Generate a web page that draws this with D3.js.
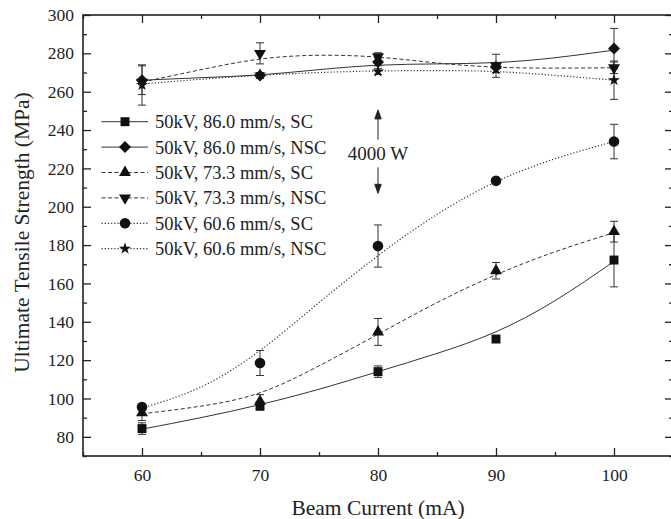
<!DOCTYPE html>
<html lang="en">
<head>
<meta charset="UTF-8">
<title>Ultimate Tensile Strength vs Beam Current</title>
<style>
  body { margin: 0; background: #fff; }
</style>
</head>
<body>
<script src="https://d3js.org/d3.v7.min.js"></script>
<script>
// ---- data ----
var currents = [60, 70, 80, 90, 100];
var fitCurrents = [60, 65, 70, 75, 80, 85, 90, 95, 100];

var labels = ['50kV, 86.0 mm/s, SC', '50kV, 86.0 mm/s, NSC', '50kV, 73.3 mm/s, SC',
              '50kV, 73.3 mm/s, NSC', '50kV, 60.6 mm/s, SC', '50kV, 60.6 mm/s, NSC'];

var sc86 = [84.3, 96, 114, 131, 172.2];
var sc86Err = [3, 2, 3, 1, 14];
var sc86Fit = [84, 90, 96.8, 104.8, 114, 123.5, 134.8, 151, 171.5];

var nsc86 = [266, 268.5, 275.5, 273, 282.5];
var nsc86Err = [7.5, 1.5, 2, 1, 10.5];
var nsc86Fit = [266, 267.3, 268.8, 271.5, 273.8, 274.5, 275.2, 277.7, 281.7];

var sc73 = [92.5, 98.5, 134.7, 166.6, 187];
var sc73Err = [4, 3.5, 7, 4.3, 5.4];
var sc73Fit = [92, 96, 103, 117, 133.5, 150, 164.5, 176.5, 186.5];

var nsc73 = [265, 280, 278.3, 273.5, 272.5];
var nsc73Err = [0, 5.5, 2, 6, 3];
var nsc73Fit = [265, 271.5, 277, 279, 278, 275, 272.8, 272.3, 272.5];

var sc60 = [95.5, 118.5, 179.5, 213.5, 234];
var sc60Err = [1.5, 6.5, 11, 1, 9];
var sc60Fit = [95, 106, 125, 150, 174.5, 196, 213, 225, 234];

var nsc60 = [263.5, 269, 270.5, 271.5, 266];
var nsc60Err = [10.5, 1, 1.5, 1.5, 10];
var nsc60Fit = [264, 266.5, 268.5, 270, 270.8, 271, 270.5, 268.5, 266];

var xTicks = [60, 70, 80, 90, 100];
var xMinor = [55, 65, 75, 85, 95, 105];
var yTicks = [80, 100, 120, 140, 160, 180, 200, 220, 240, 260, 280, 300];
var yMinor = [70, 90, 110, 130, 150, 170, 190, 210, 230, 250, 270, 290];

var serif = '"Liberation Serif", "DejaVu Serif", serif';

// ---- layout ----
var margin = { top: 15, right: -2, bottom: 63, left: 83 };
var width = 671 - margin.left - margin.right;
var height = 519 - margin.top - margin.bottom;

var x = d3.scaleLinear().domain([55, 105]).range([0, width]);
var y = d3.scaleLinear().domain([70, 300]).range([height, 0]);

var svg = d3.select('body').append('svg')
  .attr('width', 671)
  .attr('height', 519)
  .append('g')
  .attr('transform', `translate(${margin.left}, ${margin.top})`);

var series = [
  { name: labels[0], vals: sc86,  err: sc86Err,  fit: sc86Fit,  dash: null,    sym: d3.symbolSquare,   size: 80, rot: 0 },
  { name: labels[1], vals: nsc86, err: nsc86Err, fit: nsc86Fit, dash: null,    sym: d3.symbolSquare,   size: 72, rot: 45 },
  { name: labels[2], vals: sc73,  err: sc73Err,  fit: sc73Fit,  dash: '4,2.5', sym: d3.symbolTriangle, size: 62, rot: 0 },
  { name: labels[3], vals: nsc73, err: nsc73Err, fit: nsc73Fit, dash: '4,2.5', sym: d3.symbolTriangle, size: 62, rot: 180 },
  { name: labels[4], vals: sc60,  err: sc60Err,  fit: sc60Fit,  dash: '1.2,2', sym: d3.symbolCircle,   size: 88, rot: 0 },
  { name: labels[5], vals: nsc60, err: nsc60Err, fit: nsc60Fit, dash: '1.2,2', sym: d3.symbolStar,     size: 45, rot: 0 }
];

// ---- axes (ticks point inward on all four sides) ----
function styleAxis(g) {
  g.attr('font-family', serif);
  g.select('.domain').remove();
  g.selectAll('line').attr('stroke', '#222').attr('stroke-width', 1.3);
  g.selectAll('text')
    .style('font-family', serif)
    .style('font-size', '17.5px')
    .attr('fill', '#222');
}

svg.append('g')
  .attr('transform', `translate(0, ${height})`)
  .call(d3.axisBottom(x).tickValues(xTicks).tickSize(-8).tickSizeOuter(0).tickPadding(13).tickFormat(d3.format('d')))
  .call(styleAxis);
svg.append('g')
  .attr('transform', `translate(0, ${height})`)
  .call(d3.axisBottom(x).tickValues(xMinor).tickSize(-4).tickSizeOuter(0).tickFormat(''))
  .call(styleAxis);
svg.append('g')
  .call(d3.axisTop(x).tickValues(xTicks).tickSize(-8).tickSizeOuter(0).tickFormat(''))
  .call(styleAxis);
svg.append('g')
  .call(d3.axisTop(x).tickValues(xMinor).tickSize(-4).tickSizeOuter(0).tickFormat(''))
  .call(styleAxis);

svg.append('g')
  .call(d3.axisLeft(y).tickValues(yTicks).tickSize(-8).tickSizeOuter(0).tickPadding(9).tickFormat(d3.format('d')))
  .call(styleAxis);
svg.append('g')
  .call(d3.axisLeft(y).tickValues(yMinor).tickSize(-4).tickSizeOuter(0).tickFormat(''))
  .call(styleAxis);
svg.append('g')
  .attr('transform', `translate(${width}, 0)`)
  .call(d3.axisRight(y).tickValues(yTicks).tickSize(-8).tickSizeOuter(0).tickFormat(''))
  .call(styleAxis);
svg.append('g')
  .attr('transform', `translate(${width}, 0)`)
  .call(d3.axisRight(y).tickValues(yMinor).tickSize(-4).tickSizeOuter(0).tickFormat(''))
  .call(styleAxis);

svg.append('rect')
  .attr('width', width)
  .attr('height', height)
  .attr('fill', 'none')
  .attr('stroke', '#222')
  .attr('stroke-width', 1.6);

// ---- fitted curves ----
var line = d3.line()
  .x((d, i) => x(fitCurrents[i]))
  .y(d => y(d))
  .curve(d3.curveNatural);

svg.selectAll('.fit')
  .data(series)
  .enter().append('path')
  .attr('class', 'fit')
  .attr('d', d => line(d.fit))
  .attr('fill', 'none')
  .attr('stroke', '#333')
  .attr('stroke-width', d => d.dash === '1.2,2' ? 1.2 : 1)
  .attr('stroke-dasharray', d => d.dash);

// ---- error bars ----
var errs = [];
series.forEach(s => s.vals.forEach((v, i) => {
  if (s.err[i] > 0) errs.push({ x: currents[i], v: v, e: s.err[i] });
}));

var eb = svg.selectAll('.err')
  .data(errs)
  .enter().append('g')
  .attr('class', 'err')
  .attr('stroke', '#333')
  .attr('stroke-width', 1);
eb.append('line')
  .attr('x1', d => x(d.x)).attr('x2', d => x(d.x))
  .attr('y1', d => y(d.v - d.e)).attr('y2', d => y(d.v + d.e));
eb.append('line')
  .attr('x1', d => x(d.x) - 4).attr('x2', d => x(d.x) + 4)
  .attr('y1', d => y(d.v + d.e)).attr('y2', d => y(d.v + d.e));
eb.append('line')
  .attr('x1', d => x(d.x) - 4).attr('x2', d => x(d.x) + 4)
  .attr('y1', d => y(d.v - d.e)).attr('y2', d => y(d.v - d.e));

// ---- markers ----
series.forEach(function (s) {
  svg.selectAll(null)
    .data(s.vals)
    .enter().append('path')
    .attr('d', d3.symbol().type(s.sym).size(s.size))
    .attr('transform', (d, i) => `translate(${x(currents[i])}, ${y(d)}) rotate(${s.rot})`)
    .attr('fill', '#111');
});

// ---- legend ----
var legend = svg.selectAll('.legend')
  .data(series)
  .enter().append('g')
  .attr('class', 'legend')
  .attr('transform', (d, i) => `translate(0, ${106.7 + i * 25.4})`);

legend.append('line')
  .attr('x1', 18.5).attr('x2', 65)
  .attr('stroke', '#333')
  .attr('stroke-width', d => d.dash === '1.2,2' ? 1.2 : 1)
  .attr('stroke-dasharray', d => d.dash);
legend.append('path')
  .attr('d', d => d3.symbol().type(d.sym).size(d.size)())
  .attr('transform', d => `translate(42, 0) rotate(${d.rot})`)
  .attr('fill', '#111');
legend.append('text')
  .text(d => d.name)
  .attr('x', 72)
  .attr('dy', '0.35em')
  .attr('fill', '#222')
  .style('font-family', serif)
  .style('font-size', '18.5px');

// ---- 4000 W annotation ----
var arrowX = x(80);
var ann = svg.append('g').attr('stroke', '#222').attr('fill', '#222');
ann.append('line').attr('x1', arrowX).attr('x2', arrowX).attr('y1', y(235)).attr('y2', y(247));
ann.append('path').attr('d', `M${arrowX},${y(250.5)} l-3.2,9 l6.4,0 Z`);
ann.append('line').attr('x1', arrowX).attr('x2', arrowX).attr('y1', y(220.5)).attr('y2', y(210));
ann.append('path').attr('d', `M${arrowX},${y(207)} l-3.2,-9 l6.4,0 Z`);
svg.append('text')
  .text('4000 W')
  .attr('x', arrowX)
  .attr('y', y(228))
  .attr('dy', '0.35em')
  .attr('text-anchor', 'middle')
  .attr('fill', '#222')
  .style('font-family', serif)
  .style('font-size', '19px');

// ---- axis titles ----
svg.append('text')
  .text('Beam Current (mA)')
  .attr('text-anchor', 'middle')
  .attr('x', (x(55) + x(105)) / 2)
  .attr('y', height + 51)
  .attr('dy', '0.35em')
  .attr('fill', '#222')
  .style('font-family', serif)
  .style('font-size', '21.5px');

svg.append('text')
  .text('Ultimate Tensile Strength (MPa)')
  .attr('transform', 'rotate(-90)')
  .attr('text-anchor', 'middle')
  .attr('x', -height / 2 + 3)
  .attr('y', -62)
  .attr('dy', '0.35em')
  .attr('fill', '#222')
  .style('font-family', serif)
  .style('font-size', '21.5px');
</script>
</body>
</html>
